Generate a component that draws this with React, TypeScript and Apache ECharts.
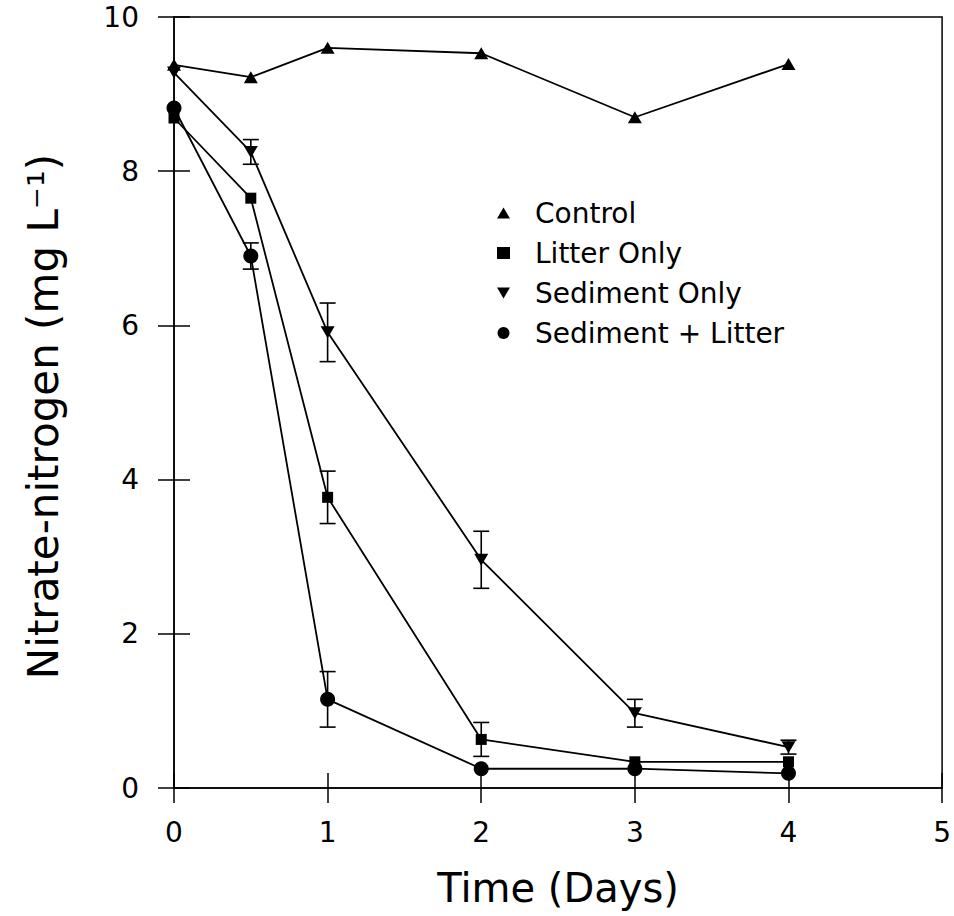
import React, { useEffect, useRef } from "react";
import * as echarts from "echarts";

const days = [0, 0.5, 1, 2, 3, 4];
const control = [9.38, 9.22, 9.6, 9.53, 8.7, 9.39];
const litterOnly = [8.69, 7.65, 3.77, 0.63, 0.34, 0.34];
const sedimentOnly = [9.28, 8.25, 5.91, 2.96, 0.97, 0.53];
const sedimentLitter = [8.82, 6.9, 1.15, 0.25, 0.25, 0.19];

const litterErr = [0, 0, 0.34, 0.22, 0, 0];
const sedimentErr = [0, 0.16, 0.38, 0.37, 0.18, 0.09];
const sedimentLitterErr = [0, 0.17, 0.36, 0, 0, 0];

const seriesNames = ["Control", "Litter Only", "Sediment Only", "Sediment + Litter"];

const FONT = "DejaVu Sans";
const DOWN_TRI = "path://M0,0L20,0L10,17Z";
const UP_TRI = "path://M10,0L20,17L0,17Z";

function errorData(vals: number[], errs: number[]) {
  const out: number[][] = [];
  days.forEach((d, i) => {
    if (errs[i] > 0) out.push([d, vals[i] - errs[i], vals[i] + errs[i]]);
  });
  return out;
}

export default function App() {
  const ref = useRef<HTMLDivElement>(null);
  useEffect(() => {
    if (!ref.current) return;
    const chart = echarts.init(ref.current, undefined, { renderer: "svg" });
    const black = "#000";
    const lineSeries = (name: string, vals: number[], symbol: string, size: any) => ({
      name,
      type: "line",
      data: days.map((d, i) => [d, vals[i]]),
      symbol,
      symbolSize: size,
      showSymbol: true,
      lineStyle: { color: black, width: 1.8 },
      itemStyle: { color: black, borderWidth: 0 },
      z: 3,
      silent: true,
    });
    const errSeries = (data: number[][]) => ({
      type: "custom",
      data,
      silent: true,
      z: 2,
      renderItem: (params: any, api: any) => {
        const x = api.value(0);
        const lo = api.value(1);
        const hi = api.value(2);
        const top = api.coord([x, hi]);
        const bot = api.coord([x, lo]);
        const w = 8;
        const style = { stroke: black, lineWidth: 1.6 };
        return {
          type: "group",
          children: [
            { type: "line", shape: { x1: top[0], y1: top[1], x2: bot[0], y2: bot[1] }, style },
            { type: "line", shape: { x1: top[0] - w, y1: top[1], x2: top[0] + w, y2: top[1] }, style },
            { type: "line", shape: { x1: bot[0] - w, y1: bot[1], x2: bot[0] + w, y2: bot[1] }, style },
          ],
        };
      },
    });
    const axisLabel = { color: black, fontSize: 28, fontFamily: FONT };
    chart.setOption({
      animation: false,
      backgroundColor: "#fff",
      textStyle: { fontFamily: FONT, color: black },
      grid: {
        left: 174,
        right: 11,
        top: 17,
        bottom: 128,
        show: true,
        borderColor: black,
        borderWidth: 1.5,
        backgroundColor: "transparent",
      },
      legend: {
        orient: "vertical",
        left: 492,
        top: 194,
        itemWidth: 13,
        itemHeight: 12,
        itemGap: 12,
        selectedMode: false,
        textStyle: {
          color: black,
          fontSize: 28,
          lineHeight: 28,
          fontFamily: FONT,
          padding: [0, 0, 0, 20],
        },
        data: [
          { name: seriesNames[0], icon: UP_TRI },
          { name: seriesNames[1], icon: "rect" },
          { name: seriesNames[2], icon: DOWN_TRI },
          { name: seriesNames[3], icon: "circle" },
        ],
      },
      xAxis: [
        {
          type: "value",
          min: 0,
          max: 5,
          interval: 1,
          position: "bottom",
          name: "Time (Days)",
          nameLocation: "middle",
          nameGap: 80,
          nameTextStyle: { color: black, fontSize: 40, fontFamily: FONT },
          axisLine: { show: true, lineStyle: { color: black, width: 1.5 } },
          axisTick: { show: true, inside: false, length: 15, lineStyle: { color: black, width: 1.5 } },
          axisLabel: { ...axisLabel, margin: 30 },
          splitLine: { show: false },
        },
        {
          type: "value",
          min: 0,
          max: 5,
          interval: 1,
          position: "bottom",
          axisLine: { show: false },
          axisTick: { show: true, inside: true, length: 15, lineStyle: { color: black, width: 1.5 } },
          axisLabel: { show: false },
          splitLine: { show: false },
        },
      ],
      yAxis: [
        {
          type: "value",
          min: 0,
          max: 10,
          interval: 2,
          position: "left",
          name: "Nitrate-nitrogen (mg L⁻¹)",
          nameLocation: "middle",
          nameGap: 110,
          nameTextStyle: { color: black, fontSize: 42, fontFamily: FONT, padding: [0, 28, 0, 0] },
          axisLine: { show: true, lineStyle: { color: black, width: 1.5 } },
          axisTick: { show: true, inside: false, length: 16, lineStyle: { color: black, width: 1.5 } },
          axisLabel: { ...axisLabel, margin: 35 },
          splitLine: { show: false },
        },
        {
          type: "value",
          min: 0,
          max: 10,
          interval: 2,
          position: "left",
          axisLine: { show: false },
          axisTick: { show: true, inside: true, length: 16, lineStyle: { color: black, width: 1.5 } },
          axisLabel: { show: false },
          splitLine: { show: false },
        },
      ],
      series: [
        lineSeries(seriesNames[0], control, UP_TRI, [14, 12]),
        lineSeries(seriesNames[1], litterOnly, "rect", 11),
        lineSeries(seriesNames[2], sedimentOnly, DOWN_TRI, [14, 12]),
        lineSeries(seriesNames[3], sedimentLitter, "circle", 15),
        errSeries(errorData(litterOnly, litterErr)),
        errSeries(errorData(sedimentOnly, sedimentErr)),
        errSeries(errorData(sedimentLitter, sedimentLitterErr)),
      ],
    });
    return () => chart.dispose();
  }, []);
  return (
    <div
      ref={ref}
      style={{ position: "absolute", left: 0, top: 0, width: 954, height: 916, background: "#fff" }}
    />
  );
}
